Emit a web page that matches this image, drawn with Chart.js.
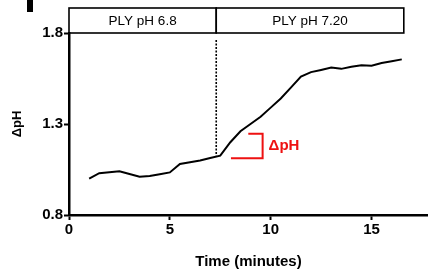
<!DOCTYPE html>
<html><head><meta charset="utf-8">
<script src="https://cdn.jsdelivr.net/npm/chart.js@4"></script>
<style>html,body{margin:0;padding:0;background:#fff}#wrap{width:428px;height:271px}</style>
</head><body><div id="wrap"><canvas id="c" width="428" height="271"></canvas></div>
<script>
const timeMin = [1.0,1.5,2.0,2.5,3.0,3.5,4.0,4.5,5.0,5.5,6.0,6.5,7.0,7.5,8.0,8.5,9.0,9.5,10.0,10.5,11.0,11.5,12.0,12.5,13.0,13.5,14.0,14.5,15.0,15.5,16.0,16.5];
const deltaPH = [1.00,1.03,1.035,1.04,1.025,1.01,1.014,1.024,1.034,1.08,1.09,1.10,1.113,1.126,1.20,1.26,1.30,1.34,1.39,1.44,1.50,1.56,1.585,1.597,1.61,1.603,1.615,1.623,1.62,1.635,1.645,1.655];
const xTicks = [0,5,10,15];
const yTicks = [0.8,1.3,1.8];
const phaseLabels = ['PLY pH 6.8','PLY pH 7.20'];
const phaseBounds = [0,7.3,16.6];
const bracket = {x0:8.03, x1:8.89, xv:9.6, yTop:1.246, yBot:1.112, label:'\u0394pH'};

const font = 'Liberation Sans, Arial, sans-serif';

const overlay = {
  id:'overlay',
  afterDraw(chart){
    const ctx = chart.ctx, xs = chart.scales.x, ys = chart.scales.y, ca = chart.chartArea;
    ctx.save();
    const top = ca.top - 25, bot = ca.top;
    ctx.strokeStyle = '#000'; ctx.lineWidth = 1.6;
    ctx.font = '13.5px ' + font; ctx.fillStyle = '#000'; ctx.textAlign='center'; ctx.textBaseline='middle';
    for (let i=0;i<phaseLabels.length;i++){
      const a = xs.getPixelForValue(phaseBounds[i]), b = xs.getPixelForValue(phaseBounds[i+1]);
      ctx.strokeRect(a, top, b-a, bot-top);
      ctx.fillText(phaseLabels[i], (a+b)/2, (top+bot)/2+1);
    }
    const dx = xs.getPixelForValue(phaseBounds[1]);
    ctx.beginPath(); ctx.setLineDash([2,1.5]); ctx.lineWidth=1.6;
    ctx.moveTo(dx, ca.top+7); ctx.lineTo(dx, ys.getPixelForValue(1.126)); ctx.stroke();
    ctx.setLineDash([]);
    ctx.strokeStyle = '#ee1111'; ctx.lineWidth = 2;
    ctx.beginPath();
    ctx.moveTo(xs.getPixelForValue(bracket.x1), ys.getPixelForValue(bracket.yTop));
    ctx.lineTo(xs.getPixelForValue(bracket.xv), ys.getPixelForValue(bracket.yTop));
    ctx.lineTo(xs.getPixelForValue(bracket.xv), ys.getPixelForValue(bracket.yBot));
    ctx.lineTo(xs.getPixelForValue(bracket.x0), ys.getPixelForValue(bracket.yBot));
    ctx.stroke();
    ctx.fillStyle = '#ee1111'; ctx.font = 'bold 15px ' + font; ctx.textAlign='left';
    ctx.fillText(bracket.label, xs.getPixelForValue(bracket.xv)+6, ys.getPixelForValue((bracket.yTop+bracket.yBot)/2));
    ctx.fillStyle = '#000'; ctx.fillRect(27,0,6,12);
    ctx.restore();
  }
};

new Chart(document.getElementById('c'), {
  type:'line',
  data:{ datasets:[{ data: timeMin.map((t,i)=>({x:t,y:deltaPH[i]})), borderColor:'#000', borderWidth:2, pointRadius:0, tension:0, fill:false }]},
  options:{
    responsive:false, animation:false, devicePixelRatio:1,
    layout:{padding:{top:33,left:0,right:0,bottom:0}},
    plugins:{legend:{display:false}, tooltip:{enabled:false}},
    scales:{
      x:{ type:'linear', min:0, max:17.8,
          afterBuildTicks(s){ s.ticks = xTicks.map(v=>({value:v})); },
          afterFit(s){ s.height = 56; },
          grid:{display:true, drawOnChartArea:false, drawTicks:true, tickLength:5, tickColor:'#000', tickWidth:2},
          border:{display:true, color:'#000', width:2.5},
          ticks:{color:'#000', font:{family:font, size:15, weight:'bold'}, padding:1, maxRotation:0},
          title:{display:true, text:'Time (minutes)', color:'#000', font:{family:font, size:15, weight:'bold'}, padding:{top:11,bottom:0}}
      },
      y:{ type:'linear', min:0.8, max:1.8,
          afterBuildTicks(s){ s.ticks = yTicks.map(v=>({value:v})); },
          afterFit(s){ s.width = 69; },
          grid:{display:true, drawOnChartArea:false, drawTicks:true, tickLength:5, tickColor:'#000', tickWidth:2},
          border:{display:true, color:'#000', width:2.5},
          ticks:{color:'#000', font:{family:font, size:15, weight:'bold'}, padding:1, callback:v=>v.toFixed(1)},
          title:{display:true, text:'\u0394pH', color:'#000', font:{family:font, size:13, weight:'bold'}, padding:{top:10,bottom:0}}
      }
    }
  },
  plugins:[overlay]
});
</script></body></html>
